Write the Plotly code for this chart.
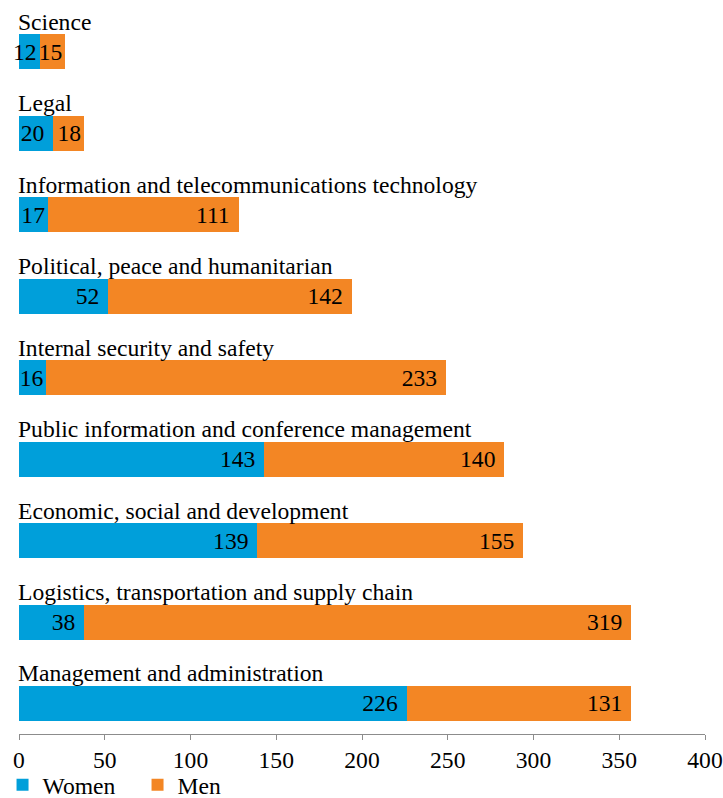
import plotly.graph_objects as go

# Staff by job network and sex
categories = [
    "Science",
    "Legal",
    "Information and telecommunications technology",
    "Political, peace and humanitarian",
    "Internal security and safety",
    "Public information and conference management",
    "Economic, social and development",
    "Logistics, transportation and supply chain",
    "Management and administration",
]
women = [12, 20, 17, 52, 16, 143, 139, 38, 226]
men = [15, 18, 111, 142, 233, 140, 155, 319, 131]
x_ticks = [0, 50, 100, 150, 200, 250, 300, 350, 400]

FONT = "Liberation Serif"
FS = 23.6
BLUE = "#009FDA"
ORANGE = "#F38624"
NBSP = "\u00a0"

W, H = 723, 798
ML, MR, MT, MB = 19, 18, 11, 64
px_per_unit = (W - ML - MR) / 400.0


def label_templates(values):
    # keep a small gap after the number when the segment is wide enough
    out = []
    for v in values:
        text_w = len(str(v)) * 11.5
        if v * px_per_unit >= text_w + 9:
            out.append("%{x}" + NBSP)
        else:
            out.append("%{x}")
    return out


fig = go.Figure()
fig.add_trace(go.Bar(
    name="Women", y=categories, x=women, orientation="h",
    marker=dict(color=BLUE, line=dict(width=0)), width=0.43,
    texttemplate=label_templates(women), textposition="inside",
    insidetextanchor="end", textangle=0, cliponaxis=False,
    insidetextfont=dict(family=FONT, size=FS, color="black"),
))
fig.add_trace(go.Bar(
    name="Men", y=categories, x=men, orientation="h",
    marker=dict(color=ORANGE, line=dict(width=0)), width=0.43,
    texttemplate=label_templates(men), textposition="inside",
    insidetextanchor="end", textangle=0, cliponaxis=False,
    insidetextfont=dict(family=FONT, size=FS, color="black"),
))

# category names written above each bar
for c in categories:
    fig.add_annotation(
        x=0, y=c, xref="x", yref="y", text=c, showarrow=False,
        xanchor="left", yanchor="middle", xshift=-3, yshift=30,
        font=dict(family=FONT, size=FS, color="black"),
    )

fig.update_layout(
    width=W, height=H,
    margin=dict(l=ML, r=MR, t=MT, b=MB, pad=0, autoexpand=False),
    barmode="stack",
    plot_bgcolor="white", paper_bgcolor="white",
    font=dict(family=FONT, size=FS, color="black"),
    uniformtext=dict(minsize=FS, mode="show"),
    showlegend=True,
    legend=dict(
        orientation="h", x=-0.024, y=-0.040, xanchor="left", yanchor="top",
        traceorder="normal",
        font=dict(family=FONT, size=FS, color="black"),
        entrywidth=90, entrywidthmode="pixels",
        bgcolor="rgba(0,0,0,0)", itemclick=False,
    ),
    xaxis=dict(
        range=[0, 400], tickvals=x_ticks, ticktext=[str(t) for t in x_ticks],
        automargin=False,
        showgrid=False, zeroline=False, showline=True, linecolor="#8c8c8c",
        linewidth=1, ticks="outside", ticklen=5, tickcolor="#8c8c8c",
        tickfont=dict(family=FONT, size=FS, color="black"),
    ),
    yaxis=dict(
        categoryorder="array", categoryarray=categories, automargin=False,
        range=[8.375, -0.503], showticklabels=False, showgrid=False,
        zeroline=False, showline=False, ticks="",
    ),
)

fig.write_html("out.html")
